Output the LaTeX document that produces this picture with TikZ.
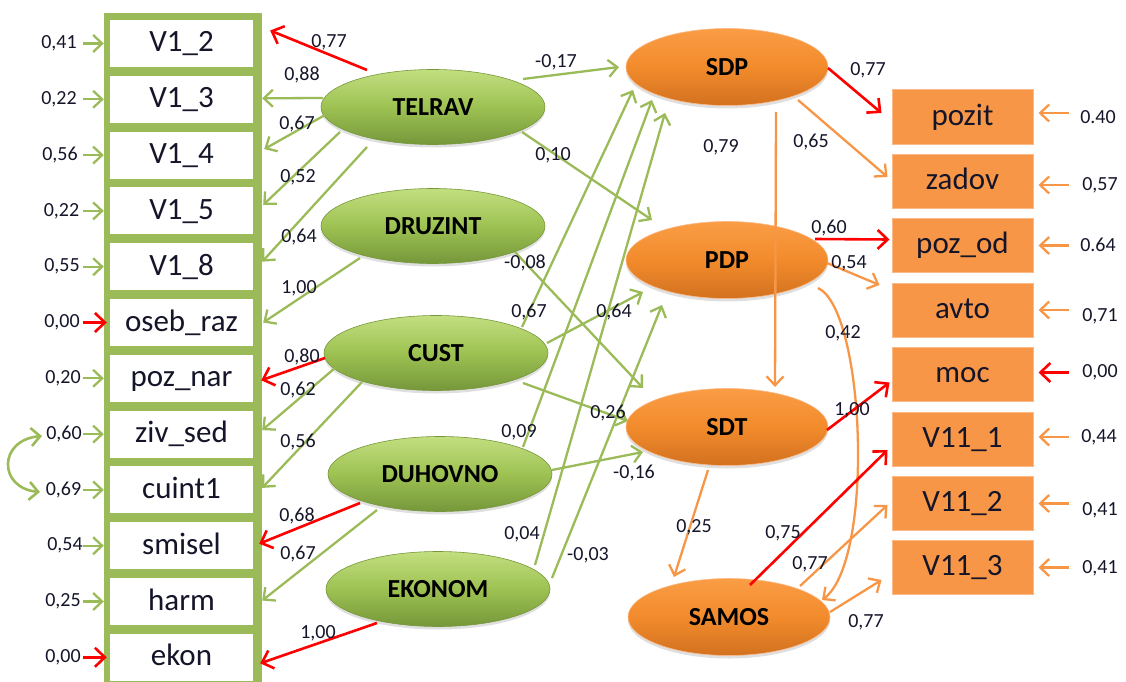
\documentclass[tikz,border=0pt]{standalone}
\usepackage{fontspec}
\setmainfont{Carlito}
\usetikzlibrary{arrows.meta,calc,shapes.geometric,shadows}
\definecolor{gline}{HTML}{9BBB59}
\definecolor{gtop}{HTML}{C2DE80}
\definecolor{gmid}{HTML}{9DC252}
\definecolor{gbot}{HTML}{76973A}
\definecolor{otop}{HTML}{FA9D45}
\definecolor{omid}{HTML}{F28B2C}
\definecolor{obot}{HTML}{D2711F}
\definecolor{oline}{HTML}{F79646}
\definecolor{oboxfill}{HTML}{F79646}
\definecolor{oboxdraw}{HTML}{FBB987}
\definecolor{rline}{HTML}{FF0000}
\definecolor{txt}{HTML}{15152A}
\tikzset{
  lbox/.style={rectangle,fill=white,minimum width=143pt,minimum height=47pt,inner sep=0pt,text height=22pt,text depth=5pt,font=\fontsize{31}{31}\selectfont,text=txt},
  rbox/.style={rectangle,fill=oboxfill,draw=oboxdraw,line width=1pt,minimum width=141pt,minimum height=54pt,inner sep=0pt,text height=22pt,text depth=6pt,font=\fontsize{31}{31}\selectfont,text=txt},
  gell/.style={ellipse,minimum width=224pt,minimum height=75pt,inner sep=0pt,top color=gtop,bottom color=gbot,middle color=gmid,draw=gbot,line width=0.6pt,text height=16.5pt,text depth=0pt,font=\bfseries\fontsize{26}{26}\selectfont,text=black,drop shadow={opacity=0.25,shadow xshift=0pt,shadow yshift=-3pt}},
  oell/.style={ellipse,minimum width=202pt,minimum height=77pt,inner sep=0pt,top color=otop,bottom color=obot,middle color=omid,draw=oboxdraw,line width=0.6pt,text height=16.5pt,text depth=0pt,font=\bfseries\fontsize{26}{26}\selectfont,text=black,drop shadow={opacity=0.25,shadow xshift=0pt,shadow yshift=-3pt}},
  num/.style={inner sep=0pt,font=\fontsize{20}{20}\selectfont,text=txt},
  garr/.style={draw=gline,line width=2.3pt,-{Straight Barb[length=9pt,width=17pt]}},
  oarr/.style={draw=oline,line width=2.3pt,-{Straight Barb[length=9pt,width=17pt]}},
  rarr/.style={draw=rline,line width=2.6pt,-{Straight Barb[length=10pt,width=19pt]}},
}
\begin{document}
\begin{tikzpicture}[x=1pt,y=-1pt]
\useasboundingbox (0,0) rectangle (1126,682);
% left indicator column
\fill[gline] (104,13) rectangle (262,682);
\node[lbox] (l1) at (181.5,43.5) {V1\_2};
\node[lbox] (l2) at (181.5,99.3) {V1\_3};
\node[lbox] (l3) at (181.5,155.1) {V1\_4};
\node[lbox] (l4) at (181.5,210.9) {V1\_5};
\node[lbox] (l5) at (181.5,266.7) {V1\_8};
\node[lbox] (l6) at (181.5,322.5) {oseb\_raz};
\node[lbox] (l7) at (181.5,378.3) {poz\_nar};
\node[lbox] (l8) at (181.5,434.1) {ziv\_sed};
\node[lbox] (l9) at (181.5,489.9) {cuint1};
\node[lbox] (l10) at (181.5,545.7) {smisel};
\node[lbox] (l11) at (181.5,601.5) {harm};
\node[lbox] (l12) at (181.5,657.3) {ekon};
% right indicators
\node[rbox] (r1) at (962.5,117) {pozit};
\node[rbox] (r2) at (962.5,181) {zadov};
\node[rbox] (r3) at (962.5,245.5) {poz\_od};
\node[rbox] (r4) at (962.5,310) {avto};
\node[rbox] (r5) at (962.5,374.5) {moc};
\node[rbox] (r6) at (962.5,439) {V11\_1};
\node[rbox] (r7) at (962.5,503.5) {V11\_2};
\node[rbox] (r8) at (962.5,567.5) {V11\_3};
% latent variables
\node[gell] (TELRAV) at (433,107) {TELRAV};
\node[gell] (DRUZINT) at (433,226) {DRUZINT};
\node[gell] (CUST) at (436,353) {CUST};
\node[gell] (DUHOVNO) at (440,474) {DUHOVNO};
\node[gell] (EKONOM) at (438,589) {EKONOM};
\node[oell] (SDP) at (727,67) {SDP};
\node[oell] (PDP) at (727,260) {PDP};
\node[oell] (SDT) at (727,427) {SDT};
\node[oell] (SAMOS) at (729,617) {SAMOS};
% left error terms
\node[num] (e1) at (59,43.5) {0,41};
\node[num] (e2) at (59,99.3) {0,22};
\node[num] (e3) at (60,155.1) {0,56};
\node[num] (e4) at (61.5,210.9) {0,22};
\node[num] (e5) at (62,266.7) {0,55};
\node[num] (e6) at (62,322.5) {0,00};
\node[num] (e7) at (63,378.3) {0,20};
\node[num] (e8) at (64,434.1) {0,60};
\node[num] (e9) at (63.5,489.9) {0,69};
\node[num] (e10) at (65,545.7) {0,54};
\node[num] (e11) at (63,601.5) {0,25};
\node[num] (e12) at (63,657.3) {0,00};
\draw[garr] ($(l1.west)+(-27,0)$) -- ($(l1.west)+(-6,0)$);
\draw[garr] ($(l2.west)+(-27,0)$) -- ($(l2.west)+(-6,0)$);
\draw[garr] ($(l3.west)+(-27,0)$) -- ($(l3.west)+(-6,0)$);
\draw[garr] ($(l4.west)+(-27,0)$) -- ($(l4.west)+(-6,0)$);
\draw[garr] ($(l5.west)+(-27,0)$) -- ($(l5.west)+(-6,0)$);
\draw[rarr] ($(l6.west)+(-27,0)$) -- ($(l6.west)+(-3,0)$);
\draw[garr] ($(l7.west)+(-27,0)$) -- ($(l7.west)+(-6,0)$);
\draw[garr] ($(l8.west)+(-27,0)$) -- ($(l8.west)+(-6,0)$);
\draw[garr] ($(l9.west)+(-27,0)$) -- ($(l9.west)+(-6,0)$);
\draw[garr] ($(l10.west)+(-27,0)$) -- ($(l10.west)+(-6,0)$);
\draw[garr] ($(l11.west)+(-27,0)$) -- ($(l11.west)+(-6,0)$);
\draw[rarr] ($(l12.west)+(-27,0)$) -- ($(l12.west)+(-3,0)$);
% covariance
\coordinate (cvA) at (42,436);
\coordinate (cvB) at (40,492);
\draw[gline,line width=2.6pt,{Straight Barb[length=9pt,width=18pt]}-{Straight Barb[length=9pt,width=18pt]}] (cvA) .. controls (-2,440) and (-2,488) .. (cvB);
% right error terms
\node[num] (f1) at (1098,117) {0.40};
\node[num] (f2) at (1100,185) {0,57};
\node[num] (f3) at (1098,245) {0.64};
\node[num] (f4) at (1100,316) {0,71};
\node[num] (f5) at (1100,372) {0,00};
\node[num] (f6) at (1099,437) {0,44};
\node[num] (f7) at (1100,510) {0,41};
\node[num] (f8) at (1100,568) {0,41};
\draw[oarr] ($(r1.east)+(35,-4)$) -- ($(r1.east)+(5,-4)$);
\draw[oarr] ($(r2.east)+(35,4)$) -- ($(r2.east)+(5,4)$);
\draw[oarr] ($(r3.east)+(35,0)$) -- ($(r3.east)+(5,0)$);
\draw[oarr] ($(r4.east)+(35,0)$) -- ($(r4.east)+(5,0)$);
\draw[rarr] ($(r5.east)+(35,-2)$) -- ($(r5.east)+(5,-2)$);
\draw[oarr] ($(r6.east)+(35,-2)$) -- ($(r6.east)+(5,-2)$);
\draw[oarr] ($(r7.east)+(35,0)$) -- ($(r7.east)+(5,0)$);
\draw[oarr] ($(r8.east)+(35,0)$) -- ($(r8.east)+(5,0)$);
% loadings on left indicators
\draw[rarr] ($(TELRAV)+(-66,-37)$) -- ($(l1.east)+(17,-13)$);
\draw[garr] ($(TELRAV)+(-110,-9)$) -- ($(l2.east)+(9,-1)$);
\draw[garr] ($(TELRAV)+(-108,8)$) -- ($(l3.east)+(11,-6)$);
\draw[garr] ($(TELRAV)+(-93,25)$) -- ($(l4.east)+(10,-6)$);
\draw[garr] ($(TELRAV)+(-66,40)$) -- ($(l5.east)+(9,-5)$);
\draw[garr] ($(DRUZINT)+(-73,32)$) -- ($(l6.east)+(10,0)$);
\draw[rarr] ($(CUST)+(-111,5)$) -- ($(l7.east)+(8,2)$);
\draw[garr] ($(CUST)+(-101,15)$) -- ($(l8.east)+(9,-4)$);
\draw[garr] ($(CUST)+(-74,29)$) -- ($(l9.east)+(9,-2)$);
\draw[rarr] ($(DUHOVNO)+(-80,29)$) -- ($(l10.east)+(6,-2)$);
\draw[garr] ($(DUHOVNO)+(-63,36)$) -- ($(l11.east)+(9,-1)$);
\draw[rarr] ($(EKONOM)+(-61,34)$) -- ($(l12.east)+(7,6)$);
% structural paths
\draw[garr] ($(TELRAV)+(90,-28)$) -- ($(SDP)+(-108,0)$);
\draw[garr] ($(TELRAV)+(89,25)$) -- ($(PDP)+(-75,-40)$);
\draw[garr] ($(DRUZINT)+(82,26)$) -- ($(SDT)+(-84,-39)$);
\draw[garr] ($(CUST)+(86,-26)$) -- ($(SDP)+(-94,23)$);
\draw[garr] ($(CUST)+(111,-10)$) -- ($(PDP)+(-84,32)$);
\draw[garr] ($(CUST)+(87,30)$) -- ($(SDT)+(-99,-6)$);
\draw[garr] ($(DUHOVNO)+(83,-27)$) -- ($(SDP)+(-75,33)$);
\draw[garr] ($(DUHOVNO)+(112,-4)$) -- ($(SDT)+(-84,25)$);
\draw[garr] ($(EKONOM)+(97,-24)$) -- ($(SDP)+(-62,46)$);
\draw[garr] ($(EKONOM)+(114,-11)$) -- ($(PDP)+(-65,45)$);
% orange side
\draw[rarr] ($(SDP)+(101,1)$) -- ($(r1.west)+(-10,-4)$);
\draw[oarr] ($(SDP)+(71,33)$) -- ($(r2.west)+(-4,-4)$);
\draw[oarr] ($(SDP)+(49,45)$) -- ($(SDT)+(48,-40)$);
\draw[rarr] ($(PDP)+(88,-21)$) -- ($(r3.west)+(-2,-6)$);
\draw[oarr] ($(PDP)+(100,3)$) -- ($(r4.west)+(-12,-25)$);
\draw[oarr] ($(PDP)+(91,28)$) .. controls ($(PDP)+(138,50)$) and ($(SAMOS)+(146,-57)$) .. ($(SAMOS)+(93,-17)$);
\draw[oarr] ($(SDT)+(-19,43)$) -- ($(SAMOS)+(-55,-40)$);
\draw[rarr] ($(SDT)+(100,3)$) -- ($(r5.west)+(-2,8)$);
\draw[rarr] ($(SAMOS)+(21,-32)$) -- ($(r6.west)+(-4,11)$);
\draw[oarr] ($(SAMOS)+(71,-31)$) -- ($(r7.west)+(-4,1.5)$);
\draw[oarr] ($(SAMOS)+(101,-5)$) -- ($(r8.west)+(-10,12.5)$);
% path labels
\node[num] (p1) at (329,42) {0,77};
\node[num] (p2) at (302,75) {0,88};
\node[num] (p3) at (297,124) {0,67};
\node[num] (p4) at (298,177) {0,52};
\node[num] (p5) at (299,237) {0,64};
\node[num] (p6) at (299,288) {1,00};
\node[num] (p7) at (302,357) {0,80};
\node[num] (p8) at (298,390) {0,62};
\node[num] (p9) at (298,442) {0,56};
\node[num] (p10) at (297,516) {0,68};
\node[num] (p11) at (298,554) {0,67};
\node[num] (p12) at (318,633) {1,00};
\node[num] (p13) at (556,62) {-0,17};
\node[num] (p14) at (553,155) {0,10};
\node[num] (p15) at (525,263) {-0,08};
\node[num] (p16) at (529,312) {0,67};
\node[num] (p17) at (614,312) {0,64};
\node[num] (p18) at (608,413) {0,26};
\node[num] (p19) at (519,432) {0,09};
\node[num] (p20) at (634,473) {-0,16};
\node[num] (p21) at (522,534) {0,04};
\node[num] (p22) at (588,555) {-0,03};
\node[num] (p23) at (868,70) {0,77};
\node[num] (p24) at (721,147) {0,79};
\node[num] (p25) at (811,142) {0,65};
\node[num] (p26) at (829,228) {0,60};
\node[num] (p27) at (849,263) {0,54};
\node[num] (p28) at (843,333) {0,42};
\node[num] (p29) at (852,410) {1,00};
\node[num] (p30) at (694,527) {0,25};
\node[num] (p31) at (783,533) {0,75};
\node[num] (p32) at (810,564) {0,77};
\node[num] (p33) at (866,622) {0,77};
\end{tikzpicture}
\end{document}
